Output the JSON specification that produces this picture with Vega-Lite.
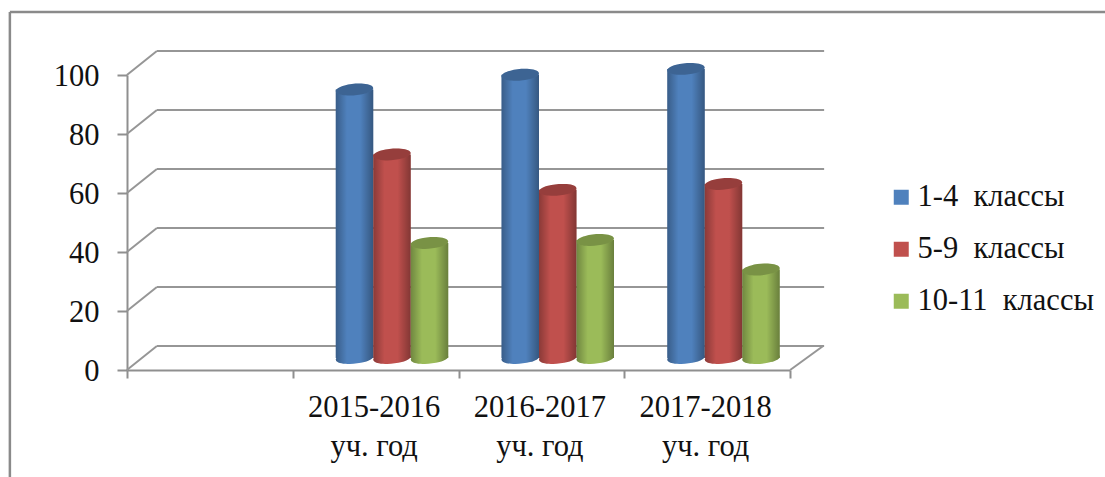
{
"$schema":"https://vega.github.io/schema/vega-lite/v6.json",
"autosize":{"type":"none"},
"padding":{"left":127,"top":75,"right":315,"bottom":107},
"width":663,"height":295,
"background":"white",
"config":{"view":{"stroke":null},"font":"Liberation Serif"},
"datasets":{
"bars":[
{"year":"2015-2016 уч. год","series":"1-4 классы","value":91},
{"year":"2015-2016 уч. год","series":"5-9 классы","value":69},
{"year":"2015-2016 уч. год","series":"10-11 классы","value":39},
{"year":"2016-2017 уч. год","series":"1-4 классы","value":96},
{"year":"2016-2017 уч. год","series":"5-9 классы","value":57},
{"year":"2016-2017 уч. год","series":"10-11 классы","value":40},
{"year":"2017-2018 уч. год","series":"1-4 классы","value":98},
{"year":"2017-2018 уч. год","series":"5-9 классы","value":59},
{"year":"2017-2018 уч. год","series":"10-11 классы","value":30}],
"grid":[{"v":0},{"v":20},{"v":40},{"v":60},{"v":80},{"v":100}]
},
"data":{"name":"bars"},
"encoding":{
"x":{"field":"year","type":"nominal","sort":null,"title":null,
"scale":{"domain":[" ","2015-2016 уч. год","2016-2017 уч. год","2017-2018 уч. год"],"paddingInner":0,"paddingOuter":0},
"axis":{"labelAngle":0,"labelFont":"Liberation Serif","labelFontSize":30.5,"labelColor":"#111","labelLineHeight":39,"labelPadding":14,"labelOffset":-2,"labelExpr":"[substring(datum.label,0,9),substring(datum.label,10)]","domainColor":"#8f8f8f","domainWidth":2,"tickColor":"#8f8f8f","tickWidth":2,"tickSize":8,"tickBand":"extent","labelBaseline":"top","grid":false}},
"y":{"field":"value","type":"quantitative","title":null,
"scale":{"domain":[0,100],"nice":false},
"axis":{"values":[0,20,40,60,80,100],"labelFont":"Liberation Serif","labelFontSize":30.5,"labelColor":"#111","labelPadding":18,"labelOffset":1,"domainColor":"#8f8f8f","domainWidth":2,"tickColor":"#8f8f8f","tickWidth":2,"tickSize":10,"grid":false}},
"xOffset":{"field":"series","type":"nominal","sort":null,"scale":{"domain":["1-4 классы","5-9 классы","10-11 классы"],"range":[43,155.5],"paddingInner":0,"paddingOuter":0}}
},
"layer":[
{"data":{"name":"grid"},"mark":{"type":"rule","color":"#969696","strokeWidth":2,"xOffset":-53,"x2Offset":117,"yOffset":-24,"y2Offset":-24},
 "encoding":{"xOffset":null,"x":{"datum":" "},"x2":{"datum":"2017-2018 уч. год"},"y":{"field":"v","type":"quantitative"},"y2":{"field":"v"}}},
{"data":{"name":"grid"},"mark":{"type":"rule","color":"#969696","strokeWidth":2,"xOffset":-83,"x2Offset":-53,"yOffset":0,"y2Offset":-24},
 "encoding":{"xOffset":null,"x":{"datum":" "},"x2":{"datum":" "},"y":{"field":"v","type":"quantitative"},"y2":{"field":"v"}}},
{"data":{"values":[{"b":0}]},"mark":{"type":"rule","color":"#969696","strokeWidth":2,"xOffset":83,"x2Offset":116,"yOffset":0,"y2Offset":-24},
 "encoding":{"xOffset":null,"x":{"datum":"2017-2018 уч. год"},"x2":{"datum":"2017-2018 уч. год"},"y":{"field":"b","type":"quantitative"},"y2":{"field":"b"}}},
{"data":{"values":[{"t":121.36}]},"mark":{"type":"rule","color":"#8a8a8a","strokeWidth":2.5,"xOffset":-200,"x2Offset":500},
 "encoding":{"xOffset":null,"x":{"datum":" "},"x2":{"datum":"2017-2018 уч. год"},"y":{"field":"t","type":"quantitative"},"y2":{"field":"t"}}},
{"data":{"values":[{"t":121.36,"b":-50}]},"mark":{"type":"rule","color":"#8a8a8a","strokeWidth":2.5,"xOffset":-200},
 "encoding":{"xOffset":null,"x":{"datum":" "},"y":{"field":"t","type":"quantitative"},"y2":{"field":"b"}}},
{"mark":{"type":"point","filled":true,"opacity":1,"size":1406,"yOffset":-12,"shape":"M-0.996,0.087A1,0.3 -5 1,1 0.996,-0.087A1,0.3 -5 1,1 -0.996,0.087Z"},
 "encoding":{"y":{"datum":0,"type":"quantitative"},"color":{"field":"series","type":"nominal","sort":null}}},
{"mark":{"type":"point","filled":true,"opacity":1,"size":1406,"yOffset":-12,"shape":"M-0.996,0.087A1,0.3 -5 1,1 0.996,-0.087A1,0.3 -5 1,1 -0.996,0.087Z","color":{"gradient":"linear","x1":0,"x2":1,"y1":0,"y2":0,"stops":[{"offset":0,"color":"rgba(0,0,0,0.28)"},{"offset":0.3,"color":"rgba(0,0,0,0)"},{"offset":0.65,"color":"rgba(0,0,0,0)"},{"offset":1,"color":"rgba(0,0,0,0.32)"}]}},
 "encoding":{"y":{"datum":0,"type":"quantitative"}}},
{"mark":{"type":"bar","yOffset":-12,"y2Offset":-12},
 "encoding":{"y2":{"datum":0},
 "color":{"field":"series","type":"nominal","sort":null,"title":null,
  "scale":{"domain":["1-4 классы","5-9 классы","10-11 классы"],"range":["#4f81bd","#c0504d","#9bbb59"]},
  "legend":{"orient":"none","legendX":759,"legendY":107,"padding":0,"symbolType":"square","symbolSize":225,"symbolStrokeWidth":0,"labelFont":"Liberation Serif","labelFontSize":30.5,"labelColor":"#111","labelOffset":1,"rowPadding":21,"labelLimit":300,"labelExpr":"replace(datum.label,' ','\u00a0\u00a0')"}}}},
{"mark":{"type":"bar","yOffset":-12,"y2Offset":-12,"color":{"gradient":"linear","x1":0,"x2":1,"y1":0,"y2":0,"stops":[{"offset":0,"color":"rgba(0,0,0,0.28)"},{"offset":0.3,"color":"rgba(0,0,0,0)"},{"offset":0.65,"color":"rgba(0,0,0,0)"},{"offset":1,"color":"rgba(0,0,0,0.32)"}]}},
 "encoding":{"y2":{"datum":0}}},
{"mark":{"type":"point","filled":true,"opacity":1,"size":1406,"yOffset":-12,"shape":"M-0.996,0.087A1,0.3 -5 1,1 0.996,-0.087A1,0.3 -5 1,1 -0.996,0.087Z"},
 "encoding":{"color":{"field":"series","type":"nominal","sort":null}}},
{"mark":{"type":"point","filled":true,"size":1406,"yOffset":-12,"color":"#000","opacity":0.22,"shape":"M-0.996,0.087A1,0.3 -5 1,1 0.996,-0.087A1,0.3 -5 1,1 -0.996,0.087Z"},
 "encoding":{}}
]
}
